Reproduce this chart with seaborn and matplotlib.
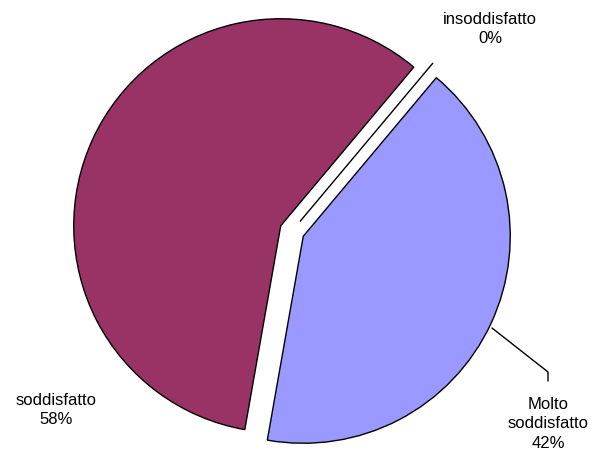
import matplotlib
matplotlib.use("Agg")
from matplotlib import pyplot as plt
import seaborn as sns

# dati del grafico (risposte: 42% / 58% / 0%)
categorie = ["Molto\nsoddisfatto", "soddisfatto", "insoddisfatto"]
valori = [5, 7, 0]
colori = ["#9999FF", "#993366", "#FFFFFF"]

sns.set_theme(style="white")
plt.rcParams["font.family"] = ["Liberation Sans", "DejaVu Sans"]

W, H = 602, 454
R = 207.0            # raggio della torta in pixel
CX, CY = 292.0, 231.0  # centro in pixel (dall'alto)

def px(x, y):
    """ pixel -> coordinate dati """
    return (x - CX) / R, (CY - y) / R

fig = plt.figure(figsize=(W / 100, H / 100), dpi=100)
ax = fig.add_axes([0, 0, 1, 1])

wedges, _ = ax.pie(valori, colors=colori, startangle=50, counterclock=False,
                   explode=[0.06, 0.06, 0.06], radius=1,
                   wedgeprops=dict(edgecolor="black", linewidth=1.0))

ax.set_xlim(-CX / R, (W - CX) / R)
ax.set_ylim(-(H - CY) / R, CY / R)
ax.axis("off")

# etichette
totale = sum(valori)
pos = [px(548, 424), px(56.5, 410), px(490, 29)]
for cat, v, (x, y) in zip(categorie, valori, pos):
    ax.text(x, y, "%s\n%d%%" % (cat, round(100 * v / totale)), ha="center",
            va="center", fontsize=12, linespacing=1.4, color="black")

# linea guida per "Molto soddisfatto"
p1, p2, p3 = px(492, 328), px(548, 372), px(548, 381)
ax.plot([p1[0], p2[0], p3[0]], [p1[1], p2[1], p3[1]], color="black", lw=1)

plt.savefig("out.png", dpi=100)
